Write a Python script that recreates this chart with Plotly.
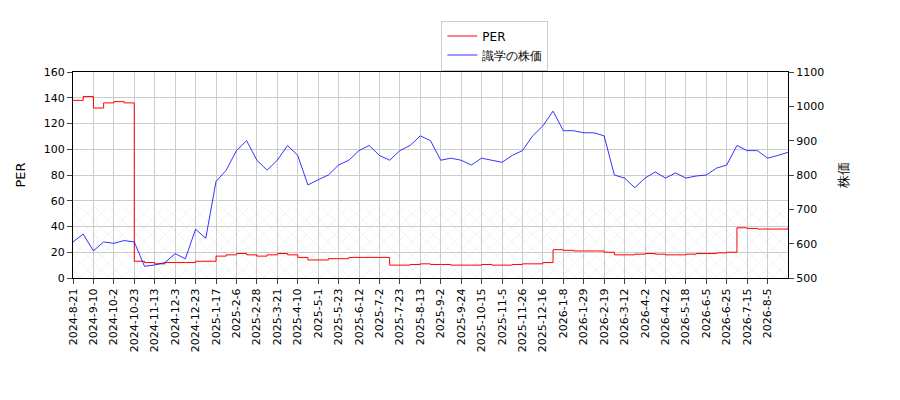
import plotly.graph_objects as go

tick_labels = ["2024-8-21","2024-9-10","2024-10-2","2024-10-23","2024-11-13","2024-12-3","2024-12-23",
"2025-1-17","2025-2-6","2025-2-28","2025-3-21","2025-4-10","2025-5-1","2025-5-23","2025-6-12","2025-7-2",
"2025-7-23","2025-8-13","2025-9-2","2025-9-24","2025-10-15","2025-11-5","2025-11-26","2025-12-16",
"2026-1-8","2026-1-29","2026-2-19","2026-3-12","2026-4-2","2026-4-22","2026-5-18","2026-6-5","2026-6-25",
"2026-7-15","2026-8-5"]
tick_pos = [2*i for i in range(len(tick_labels))]

price = [605,628,579,605,601,609,605,534,538,545,571,556,642,616,781,814,871,900,843,814,843,886,857,771,
786,800,829,843,871,886,857,843,871,886,914,900,843,849,843,829,849,843,837,857,871,914,943,986,929,929,
923,923,914,800,791,763,791,809,791,806,791,797,800,820,829,886,871,871,849,857,866]
per = [138,141,132,136,137,136,13,12,11,12,12,12,13,13,17,18,19,18,17,18,19,18,16,14,14,15,15,16,16,16,16,
10,10,10.5,11,10.5,10.5,10,10,10,10.5,10,10,10.5,11,11,12,22,21.5,21,21,21,20,18,18,18.5,19,18.5,18,18,
18.5,19,19,19.5,20,39,38.5,38,38,38,39]
x = list(range(len(price)))

fig = go.Figure()
fig.add_trace(go.Scatter(x=[0,70,70,0,0], y=[0,0,55,55,0], mode="lines", fill="toself", line=dict(width=0),
              fillcolor="rgba(0,0,0,0)", fillpattern=dict(shape="x", fgcolor="#999", bgcolor="rgba(0,0,0,0)", size=10, solidity=0.05),
              showlegend=False, hoverinfo="skip"))
fig.add_trace(go.Scatter(x=x, y=per, name="PER", mode="lines", line=dict(color="red", width=1), line_shape="hv"))
fig.add_trace(go.Scatter(x=x, y=price, name="識学の株価", mode="lines", line=dict(color="blue", width=0.8), yaxis="y2"))
font = dict(family="DejaVu Sans", size=11, color="black")
fig.update_layout(
    width=900, height=400, margin=dict(l=60, r=120, t=60, b=130),
    paper_bgcolor="white", plot_bgcolor="white", font=font,
    legend=dict(x=0.59, y=1.25, xanchor="center", yanchor="top", bordercolor="#ccc", borderwidth=1, font=dict(size=12)),
    xaxis=dict(range=[0,70], tickvals=tick_pos, ticktext=tick_labels, tickangle=-90, showgrid=True, gridcolor="#ccc",
               showline=True, linecolor="black", mirror=True, ticks="outside", zeroline=False),
    yaxis=dict(range=[0,160], dtick=20, title=dict(text="PER"), showgrid=True, gridcolor="#ccc",
               showline=True, linecolor="black", ticks="outside", zeroline=False),
    yaxis2=dict(range=[500,1100], dtick=100, overlaying="y", side="right", title=dict(text="株価"),
                showgrid=False, showline=True, linecolor="black", ticks="outside", zeroline=False),
)
fig.write_html("out.html")
